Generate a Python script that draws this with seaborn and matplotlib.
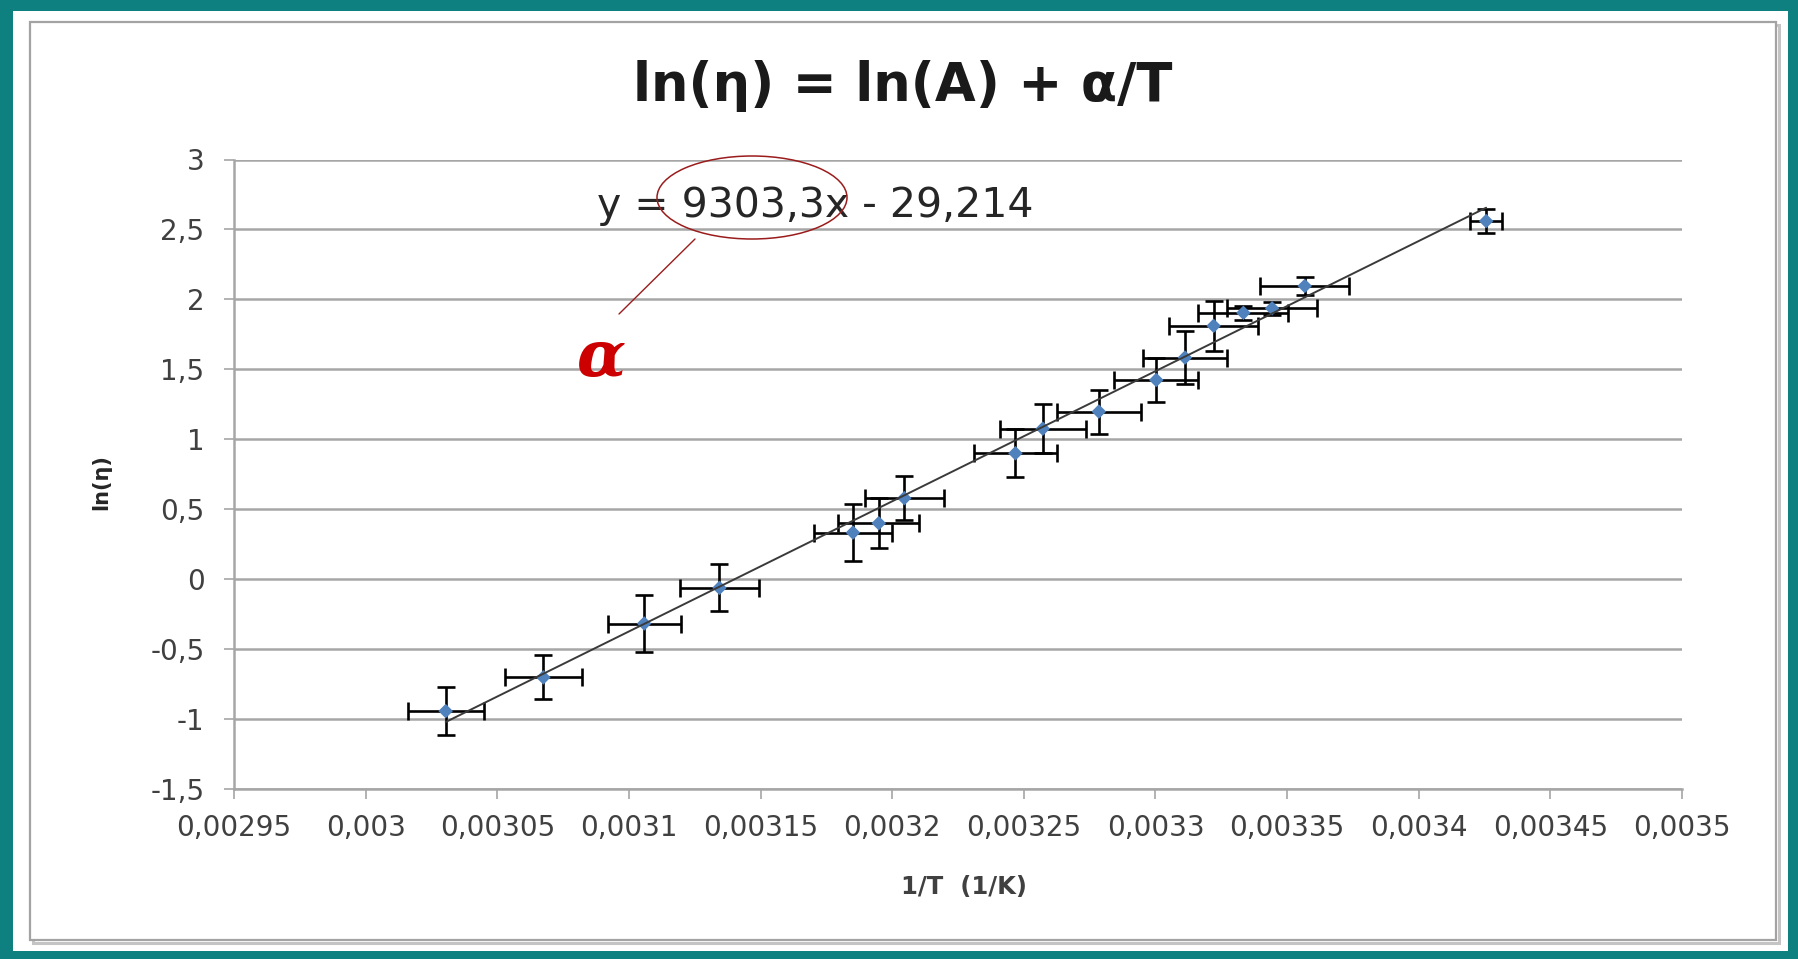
import matplotlib
matplotlib.use('Agg')
import matplotlib.pyplot as plt
import seaborn as sns
import numpy as np
import pandas as pd
from matplotlib.patches import Ellipse, Rectangle
from matplotlib.lines import Line2D

# ---------------- data ----------------
inv_T = [0.0030304, 0.0030675, 0.0031058, 0.0031344, 0.0031851, 0.0031949,
         0.0032046, 0.0032468, 0.0032572, 0.0032785, 0.0033003, 0.0033112,
         0.0033221, 0.0033334, 0.0033443, 0.0033567, 0.0034256]
ln_eta = [-0.943, -0.702, -0.317, -0.062, 0.333, 0.400, 0.579, 0.900, 1.076,
          1.198, 1.424, 1.584, 1.811, 1.904, 1.936, 2.096, 2.560]
x_err = [1.44e-5, 1.45e-5, 1.39e-5, 1.49e-5, 1.47e-5, 1.535e-5, 1.49e-5,
         1.58e-5, 1.64e-5, 1.60e-5, 1.60e-5, 1.60e-5, 1.69e-5, 1.71e-5,
         1.71e-5, 1.70e-5, 0.61e-5]
y_err = [0.169, 0.157, 0.202, 0.167, 0.203, 0.179, 0.158, 0.170, 0.174,
         0.157, 0.155, 0.190, 0.179, 0.052, 0.048, 0.064, 0.086]
slope = 9303.3
intercept = -29.214

x_ticks = [0.00295, 0.003, 0.00305, 0.0031, 0.00315, 0.0032, 0.00325,
           0.0033, 0.00335, 0.0034, 0.00345, 0.0035]
x_tick_labels = ['0,00295', '0,003', '0,00305', '0,0031', '0,00315', '0,0032',
                 '0,00325', '0,0033', '0,00335', '0,0034', '0,00345', '0,0035']
y_ticks = [-1.5, -1, -0.5, 0, 0.5, 1, 1.5, 2, 2.5, 3]
y_tick_labels = ['-1,5', '-1', '-0,5', '0', '0,5', '1', '1,5', '2', '2,5', '3']

title_text = 'ln(η) = ln(A) + α/T'
equation_text = 'y = 9303,3x - 29,214'
x_label = '1/T  (1/K)'
y_label = 'ln(η)'
alpha_text = 'α'

df = pd.DataFrame({'inv_T': inv_T, 'ln_eta': ln_eta, 'x_err': x_err, 'y_err': y_err})

# ---------------- style ----------------
sns.set_theme(style='white')
plt.rcParams['font.family'] = ['DejaVu Sans']

W, H = 1799, 959
fig = plt.figure(figsize=(W / 100, H / 100), dpi=100, facecolor='#0d807f')

# white page inside teal frame
fig.add_artist(Rectangle((13 / W, 1 - 951 / H), (1788 - 13) / W, (951 - 11) / H,
                         transform=fig.transFigure, facecolor='white',
                         edgecolor='none', zorder=-3))
# chart-area frame with shadow
fig.add_artist(Rectangle((33 / W, 1 - 943 / H), (1776 - 30) / W, (940 - 22) / H,
                         transform=fig.transFigure, facecolor='none',
                         edgecolor='#c4c4c4', lw=2.2, zorder=-2))
fig.add_artist(Rectangle((30 / W, 1 - 940 / H), (1776 - 30) / W, (940 - 22) / H,
                         transform=fig.transFigure, facecolor='white',
                         edgecolor='#a3a3a3', lw=1.6, zorder=-1))

ax = fig.add_axes([234 / W, 1 - 789 / H, (1682 - 234) / W, (789 - 159.5) / H])
ax.set_facecolor('white')

# error bars
ax.errorbar(df['inv_T'], df['ln_eta'], xerr=df['x_err'], yerr=df['y_err'],
            fmt='none', ecolor='black', elinewidth=1.9, capsize=6.5,
            capthick=1.9, zorder=3)
# markers
sns.scatterplot(data=df, x='inv_T', y='ln_eta', marker='D', s=55,
                color='#4F81BD', edgecolor='none', zorder=4, ax=ax, legend=False)
# linear trendline
xs = np.array([df['inv_T'].min(), df['inv_T'].max()])
sns.lineplot(x=xs, y=slope * xs + intercept, color='#3a3a3a', lw=1.4,
             zorder=5, ax=ax)

ax.set_xlim(0.00295, 0.0035)
ax.set_ylim(-1.5, 3)
ax.set_xticks(x_ticks)
ax.set_xticklabels(x_tick_labels)
ax.set_yticks(y_ticks)
ax.set_yticklabels(y_tick_labels)

ax.yaxis.grid(True, color='#a6a6a6', lw=1.8)
ax.xaxis.grid(False)
ax.set_axisbelow(True)
for s in ['top', 'right']:
    ax.spines[s].set_visible(False)
for s in ['left', 'bottom']:
    ax.spines[s].set_color('#a6a6a6')
    ax.spines[s].set_linewidth(1.8)

ax.tick_params(axis='both', which='major', direction='out', length=7.2,
               width=1.2, color='#a6a6a6', labelsize=20, labelcolor='#404040')
ax.tick_params(axis='x', pad=11, bottom=True)
ax.tick_params(axis='y', pad=14, left=True)

ax.set_xlabel(x_label, fontsize=17.5, fontweight='bold', color='#404040', va='center')
ax.xaxis.set_label_coords((964 - 234) / 1448, (789 - 887) / 629.5)
ax.set_ylabel(y_label, fontsize=15, fontweight='bold', color='#262626', va='center')
ax.yaxis.set_label_coords((101 - 234) / 1448, (789 - 482) / 629.5)

fig.text(903 / W, 1 - 86 / H, title_text, fontsize=38, fontweight='bold',
         color='#1a1a1a', ha='center', va='center')
fig.text(597 / W, 1 - 217 / H, equation_text, fontsize=29.5, color='#262626',
         ha='left', va='baseline')

# annotation: ellipse, leader line and alpha symbol
fig.add_artist(Ellipse((752 / W, 1 - 197.5 / H), 190 / W, 83 / H,
                       transform=fig.transFigure, facecolor='none',
                       edgecolor='#9b1c1c', lw=1.1, zorder=6))
fig.add_artist(Line2D([695 / W, 619 / W], [1 - 239 / H, 1 - 314 / H],
                      transform=fig.transFigure, color='#9b1c1c', lw=1.0))
fig.text(602 / W, 1 - 376 / H, alpha_text, fontsize=46, color='#cc0000',
         family=['DejaVu Serif'], style='italic',
         fontweight='bold', ha='center', va='baseline')

fig.savefig('out.png', dpi=100, facecolor=fig.get_facecolor())
